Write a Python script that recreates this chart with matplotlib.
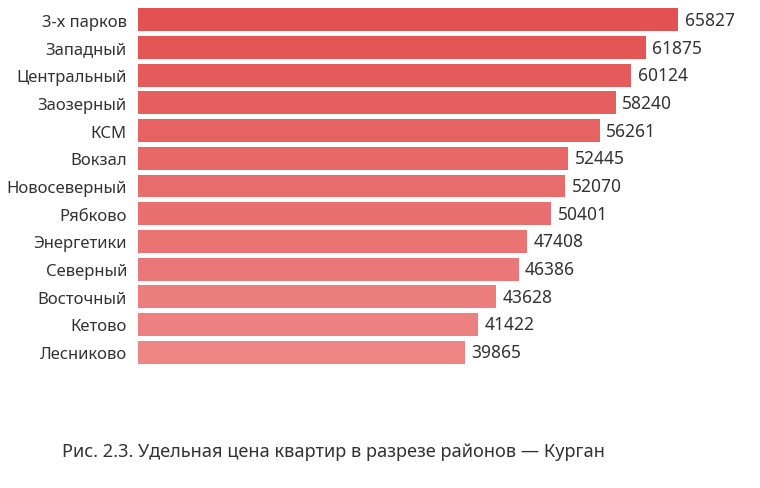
import matplotlib
matplotlib.use("Agg")
import matplotlib.pyplot as plt
from matplotlib.colors import LinearSegmentedColormap
import numpy as np

districts = ["3-х парков", "Западный", "Центральный", "Заозерный", "КСМ", "Вокзал",
             "Новосеверный", "Рябково", "Энергетики", "Северный", "Восточный",
             "Кетово", "Лесниково"]
prices = [65827, 61875, 60124, 58240, 56261, 52445, 52070, 50401, 47408, 46386,
          43628, 41422, 39865]
caption = "Рис. 2.3. Удельная цена квартир в разрезе районов — Курган"

plt.rcParams["font.family"] = ["Noto Sans", "DejaVu Sans"]

fig = plt.figure(figsize=(7.6, 4.89), dpi=100)
ax = fig.add_axes([138 / 760, 1 - 367 / 489, 540 / 760, 360 / 489])

cmap = LinearSegmentedColormap.from_list("reds", ["#e35252", "#ee8585"])
n = len(districts)
colors = [cmap(i / (n - 1)) for i in range(n)]
y = np.arange(n)

ax.barh(y, prices, height=0.83, color=colors)
for yi, v in zip(y, prices):
    ax.text(v + 800, yi, str(v), va="center", ha="left", fontsize=12.5,
            color="#333333", clip_on=False)

ax.set_xlim(0, max(prices))
ax.set_ylim(n - 0.5, -0.5)
ax.set_yticks(y)
ax.set_yticklabels(districts, fontsize=12, color="#333333")
ax.tick_params(axis="y", length=0, pad=8)
ax.set_xticks([])
for s in ax.spines.values():
    s.set_visible(False)

fig.text(62 / 760, 1 - 452 / 489, caption, fontsize=13.1, color="#333333",
         va="center", ha="left")

fig.savefig("out.png", dpi=100)
